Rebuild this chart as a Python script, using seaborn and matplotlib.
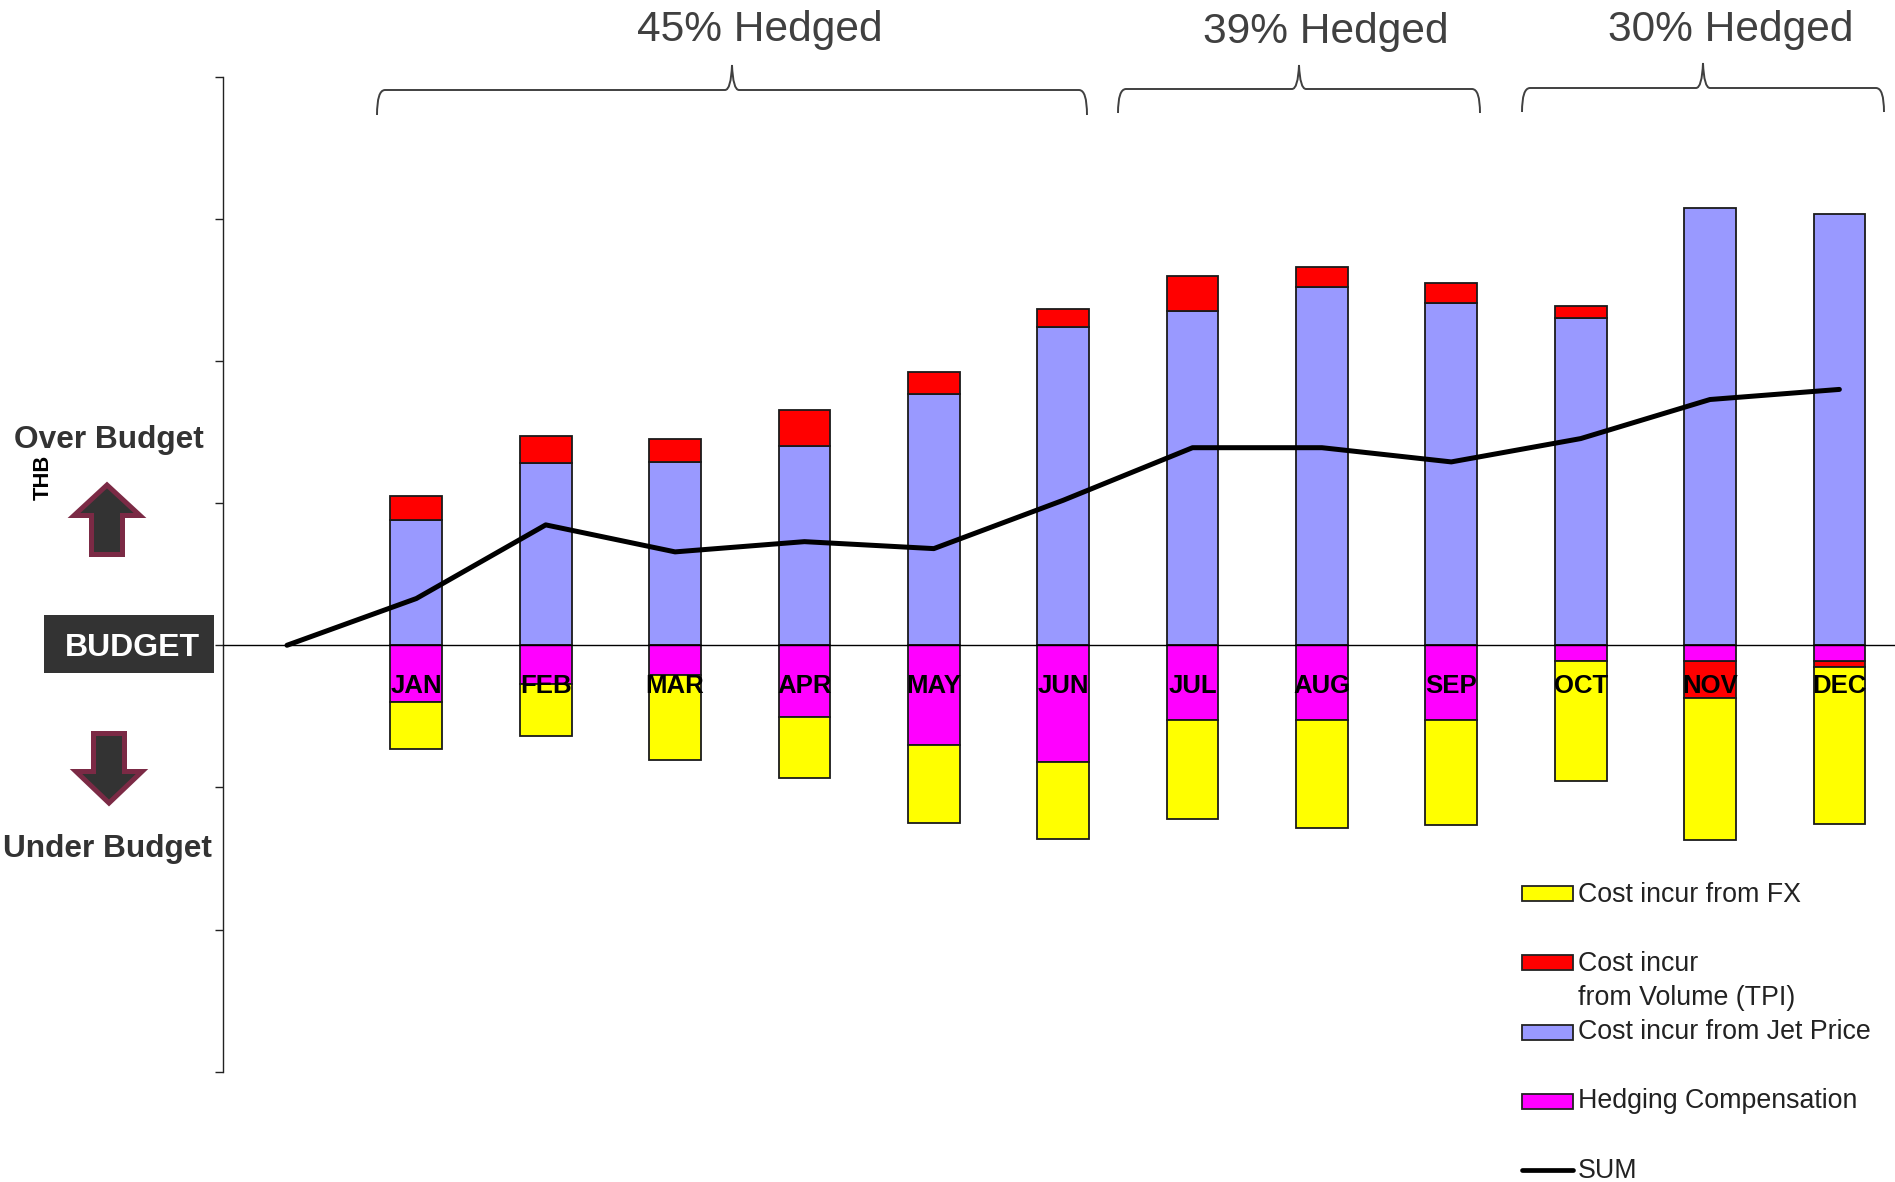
import numpy as np
import pandas as pd
import matplotlib
matplotlib.use("Agg")
import matplotlib.pyplot as plt
import seaborn as sns
from matplotlib.patches import Polygon, Rectangle, PathPatch
from matplotlib.path import Path

# first category is empty, the SUM line starts there
months = ['', 'JAN', 'FEB', 'MAR', 'APR', 'MAY', 'JUN', 'JUL', 'AUG', 'SEP', 'OCT', 'NOV', 'DEC']
jet_price = [0, 88.2, 128.3, 129.2, 140.0, 177.0, 223.8, 235.4, 252.3, 240.7, 230.1, 307.5, 303.3]
# volume sits on top of jet price, except NOV and DEC where it goes under budget
volume = [0, 16.9, 19.1, 16.2, 25.6, 15.3, 12.9, 24.6, 14.1, 13.9, 8.5, -26.5, -4.2]
hedging = [0, -39.6, -27.0, -21.1, -50.2, -70.1, -81.9, -52.3, -52.3, -52.3, -10.8, -10.8, -10.8]
fx = [0, -33.6, -36.8, -59.6, -43.2, -55.2, -54.1, -69.9, -76.2, -74.1, -84.9, -99.9, -110.5]
total = [0, 32.9, 84.7, 65.7, 72.9, 68.0, 102.0, 139.0, 139.0, 129.0, 145.4, 172.9, 180.0]
y_ticks = [-300, -200, -100, 0, 100, 200, 300, 400]

hedge_labels = ['45% Hedged', '39% Hedged', '30% Hedged']
legend_labels = ['Cost incur from FX', 'Cost incur', 'from Volume (TPI)', 'Cost incur from Jet Price',
                 'Hedging Compensation', 'SUM']

FX_COLOR = '#FFFF00'
VOLUME_COLOR = '#FF0000'
JET_COLOR = '#9999FF'
HEDGE_COLOR = '#FF00FF'
EDGE = '#1a1a1a'
DARK = '#333333'
ARROW_EDGE = '#7B2A45'

sns.set_style("white")
plt.rcParams['font.family'] = ['Liberation Sans', 'DejaVu Sans']

W, H = 1895, 1182
fig = plt.figure(figsize=(W / 100, H / 100), dpi=100)
ax = fig.add_axes([222.7 / W, (H - 1071.7) / H, (W - 222.7) / W, 995 / H])

df = pd.DataFrame({'month': months, 'jet': jet_price, 'volume': volume, 'hedging': hedging, 'fx': fx, 'sum': total})
vol_below = df['volume'].clip(upper=0)

bar_args = dict(x=months, order=months, width=0.40, saturation=1, errorbar=None,
                edgecolor=EDGE, linewidth=1.3, ax=ax)
sns.barplot(y=df['jet'].values, color=JET_COLOR, **bar_args)
sns.barplot(y=df['volume'].values, bottom=np.where(df['volume'] >= 0, df['jet'], df['hedging']),
            color=VOLUME_COLOR, **bar_args)
sns.barplot(y=df['hedging'].values, color=HEDGE_COLOR, **bar_args)
sns.barplot(y=df['fx'].values, bottom=(df['hedging'] + vol_below).values, color=FX_COLOR, **bar_args)
# the empty first category should not leave a flat edge on the baseline
for bar in ax.patches:
    if bar.get_height() == 0:
        bar.set_visible(False)
sns.pointplot(x=months, y=df['sum'].values, order=months, color='black', markers='', linewidth=3.6,
              errorbar=None, ax=ax)

ax.set_xlim(-0.497, 12.43)
ax.set_ylim(-300, 400)
ax.set_yticks(y_ticks)
ax.set_yticklabels([])
ax.set_ylabel('')
sns.despine(ax=ax, top=True, right=True)
ax.spines['bottom'].set_position(('data', 0))
ax.spines['bottom'].set_linewidth(1.0)
ax.spines['bottom'].set_color('black')
ax.spines['left'].set_linewidth(1.0)
ax.spines['left'].set_color('#222222')
ax.set_axisbelow(False)
ax.tick_params(axis='x', length=0, pad=20.5, labelsize=18.5, labelcolor='black')
ax.tick_params(axis='y', left=True, length=5.8, width=1.0, color='#222222')
for lab in ax.get_xticklabels():
    lab.set_fontweight('bold')
for line in ax.lines:
    line.set_solid_capstyle('round')
    line.set_solid_joinstyle('round')

# overlay in picture pixels for the annotations drawn around the chart
over = fig.add_axes([0, 0, 1, 1], zorder=5)
over.set_xlim(0, W)
over.set_ylim(H, 0)
over.axis('off')

over.add_patch(Rectangle((44, 615), 170, 58, facecolor=DARK, edgecolor='none'))
over.text(132, 656, 'BUDGET', color='white', fontsize=23, fontweight='bold', ha='center', va='baseline')
over.text(108.7, 448, 'Over Budget', color=DARK, fontsize=22.8, fontweight='bold', ha='center', va='baseline')
over.text(107, 857.5, 'Under Budget', color=DARK, fontsize=22.8, fontweight='bold', ha='center', va='baseline')
over.text(43, 477, 'THB', color='black', fontsize=15.8, fontweight='bold', rotation=90, ha='center', va='center')

up_arrow = [(107, 485), (140, 515.5), (122.5, 515.5), (122.5, 554.5), (91.5, 554.5), (91.5, 515.5), (74, 515.5)]
down_arrow = [(109, 803), (142, 771.5), (124.5, 771.5), (124.5, 733.5), (93.5, 733.5), (93.5, 771.5), (76, 771.5)]
for pts in (up_arrow, down_arrow):
    over.add_patch(Polygon(pts, closed=True, facecolor=DARK, edgecolor=ARROW_EDGE, linewidth=3.6))


def brace(x0, xm, x1, y_peak, y_line, y_end):
    verts = [(x0, y_end), (x0, y_line), (x0 + 8, y_line), (xm - 7, y_line), (xm - 1, y_line), (xm, y_peak),
             (xm + 1, y_line), (xm + 7, y_line), (x1 - 8, y_line), (x1, y_line), (x1, y_end)]
    codes = [Path.MOVETO, Path.CURVE3, Path.CURVE3, Path.LINETO, Path.CURVE3, Path.CURVE3,
             Path.CURVE3, Path.CURVE3, Path.LINETO, Path.CURVE3, Path.CURVE3]
    over.add_patch(PathPatch(Path(verts, codes), facecolor='none', edgecolor='#404040', linewidth=1.4))


brace(377, 732, 1087, 65, 90, 115)
brace(1118, 1299, 1480, 65, 89, 113)
brace(1522, 1703, 1884, 63, 88, 112)
for label, x, y in zip(hedge_labels, [760, 1326, 1731], [41, 43, 41]):
    over.text(x, y, label, color='#404040', fontsize=30.6, ha='center', va='baseline')

# legend, the rows are not evenly spaced so it is placed by hand
for color, yc in zip([FX_COLOR, VOLUME_COLOR, JET_COLOR, HEDGE_COLOR], [893, 962, 1032, 1101]):
    over.add_patch(Rectangle((1522, yc - 7.5), 51, 15, facecolor=color, edgecolor='#222222', linewidth=1.3))
over.plot([1522, 1573], [1170, 1170], color='black', linewidth=3.4, solid_capstyle='round')
for label, y in zip(legend_labels, [902, 971, 1005, 1039, 1108, 1178]):
    over.text(1578, y, label, color='#222222', fontsize=19.3, ha='left', va='baseline')

plt.savefig('out.png', dpi=100)
plt.close()
